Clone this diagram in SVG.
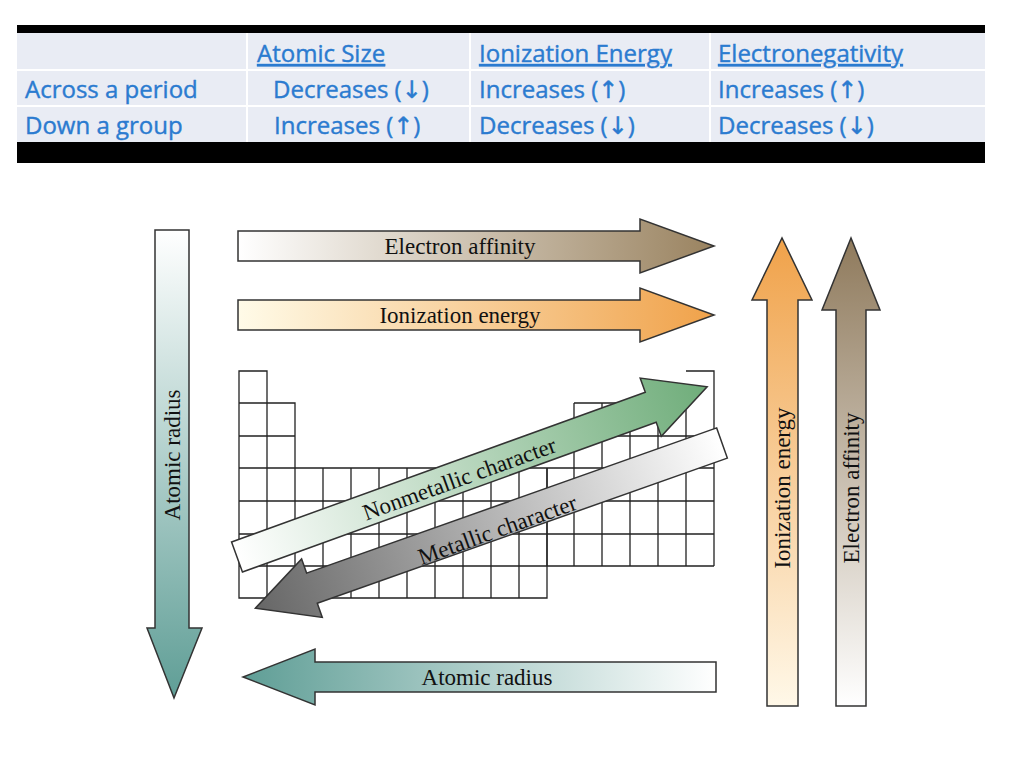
<svg xmlns="http://www.w3.org/2000/svg" width="1024" height="768" viewBox="0 0 1024 768">
<defs>
<style>
.t{font-family:"Open Sans","Liberation Sans",sans-serif;font-size:24px;fill:#2b7bd0;stroke:#2b7bd0;stroke-width:0.4}
.h{text-decoration:underline}
.s{font-family:"Liberation Serif",serif;font-size:23px;fill:#111}
.ar{stroke:#333;stroke-width:1.5}
.g{fill:none;stroke:#222;stroke-width:1.3}
</style>
<linearGradient id="ea" x1="0" x2="1"><stop offset="0" stop-color="#fff"/><stop offset="1" stop-color="#9a8360"/></linearGradient>
<linearGradient id="ie" x1="0" x2="1"><stop offset="0" stop-color="#fffbe8"/><stop offset="1" stop-color="#f0a24a"/></linearGradient>
<linearGradient id="arH" x1="0" x2="1"><stop offset="0" stop-color="#5f9e96"/><stop offset="1" stop-color="#fff"/></linearGradient>
<linearGradient id="arV" x1="0" y1="0" x2="0" y2="1"><stop offset="0" stop-color="#fff"/><stop offset="1" stop-color="#5f9e96"/></linearGradient>
<linearGradient id="ieV" x1="0" y1="1" x2="0" y2="0"><stop offset="0" stop-color="#fff8e8"/><stop offset="1" stop-color="#f0a24a"/></linearGradient>
<linearGradient id="eaV" x1="0" y1="1" x2="0" y2="0"><stop offset="0" stop-color="#fff"/><stop offset="1" stop-color="#8f7a5c"/></linearGradient>
<linearGradient id="nm" x1="0" x2="1"><stop offset="0" stop-color="#fff"/><stop offset="1" stop-color="#6fad7a"/></linearGradient>
<linearGradient id="mt" x1="0" x2="1"><stop offset="0" stop-color="#fff"/><stop offset="1" stop-color="#666"/></linearGradient>
</defs>
<rect width="1024" height="768" fill="#fff"/>
<g id="table">
<rect x="17" y="25" width="968" height="138" fill="#000"/>
<rect x="17" y="33" width="968" height="109" fill="#e9ecf4"/>
<g stroke="#fff" stroke-width="2"><line x1="17" y1="70" x2="985" y2="70"/><line x1="17" y1="106" x2="985" y2="106"/><line x1="247" y1="33" x2="247" y2="142"/><line x1="470" y1="33" x2="470" y2="142"/><line x1="710" y1="33" x2="710" y2="142"/></g>
<text class="t h" x="257" y="62">Atomic Size</text>
<text class="t h" x="479" y="62">Ionization Energy</text>
<text class="t h" x="718" y="62">Electronegativity</text>
<text class="t" x="25" y="98">Across a period</text>
<text class="t" x="273" y="98">Decreases (<tspan font-family="DejaVu Sans">↓</tspan>)</text>
<text class="t" x="479" y="98">Increases  (<tspan font-family="DejaVu Sans">↑</tspan>)</text>
<text class="t" x="718" y="98">Increases  (<tspan font-family="DejaVu Sans">↑</tspan>)</text>
<text class="t" x="25" y="134">Down a group</text>
<text class="t" x="274" y="134">Increases  (<tspan font-family="DejaVu Sans">↑</tspan>)</text>
<text class="t" x="479" y="134">Decreases (<tspan font-family="DejaVu Sans">↓</tspan>)</text>
<text class="t" x="718" y="134">Decreases (<tspan font-family="DejaVu Sans">↓</tspan>)</text>
</g>
<g id="grid" class="g">
<path d="M239,371H267V598H239Z M239,403H295V598 M239,436H295 M239,468H714 M239,501H714 M239,534H714 M239,566H714 M239,598H547V468"/>
<path d="M323,468V598 M351,468V598 M379,468V598 M407,468V598 M435,468V598 M463,468V598 M491,468V598 M519,468V598 M547,468V566"/>
<path d="M574,403H686V566 M574,403V566 M602,403V566 M630,403V566 M658,403V566 M574,436H714 M686,371H714V566"/>
</g>
<g id="connectors">
<g id="ea-h"><path class="ar" fill="url(#ea)" d="M238,231H640V219L714,246L640,273V261H238Z"/><text class="s" x="460" y="254" text-anchor="middle">Electron affinity</text></g>
<g id="ie-h"><path class="ar" fill="url(#ie)" d="M238,300H640V288L714,315L640,342V330H238Z"/><text class="s" x="460" y="323" text-anchor="middle">Ionization energy</text></g>
<g id="ar-h"><path class="ar" fill="url(#arH)" d="M716,662H315V649L243,677L315,705V692H716Z"/><text class="s" x="487" y="685" text-anchor="middle">Atomic radius</text></g>
<g id="ar-v"><path class="ar" fill="url(#arV)" d="M155,230V628H147L174,698L202,628H189V230Z"/><text class="s" transform="translate(180,455) rotate(-90)" text-anchor="middle">Atomic radius</text></g>
<g id="ie-v"><path class="ar" fill="url(#ieV)" d="M767,706V300H752L782,238L812,300H798V706Z"/><text class="s" transform="translate(790,488) rotate(-90)" text-anchor="middle">Ionization energy</text></g>
<g id="ea-v"><path class="ar" fill="url(#eaV)" d="M836,706V310H822L851,238L880,310H866V706Z"/><text class="s" transform="translate(859,488) rotate(-90)" text-anchor="middle">Electron affinity</text></g>
<g id="nm"><path class="ar" fill="url(#nm)" transform="translate(237,557) rotate(-19.9)" d="M0,-16H440V-31L500,0L440,31V16H0Z"/><text class="s" font-size="26" transform="translate(462,486) rotate(-19.9)" text-anchor="middle">Nonmetallic character</text></g>
<g id="mt"><path class="ar" fill="url(#mt)" transform="translate(722,443) rotate(160.5)" d="M0,-16H435V-31L495,0L435,31V16H0Z"/><text class="s" font-size="26" transform="translate(500,537) rotate(-19.7)" text-anchor="middle">Metallic character</text></g>
</g>
</svg>
